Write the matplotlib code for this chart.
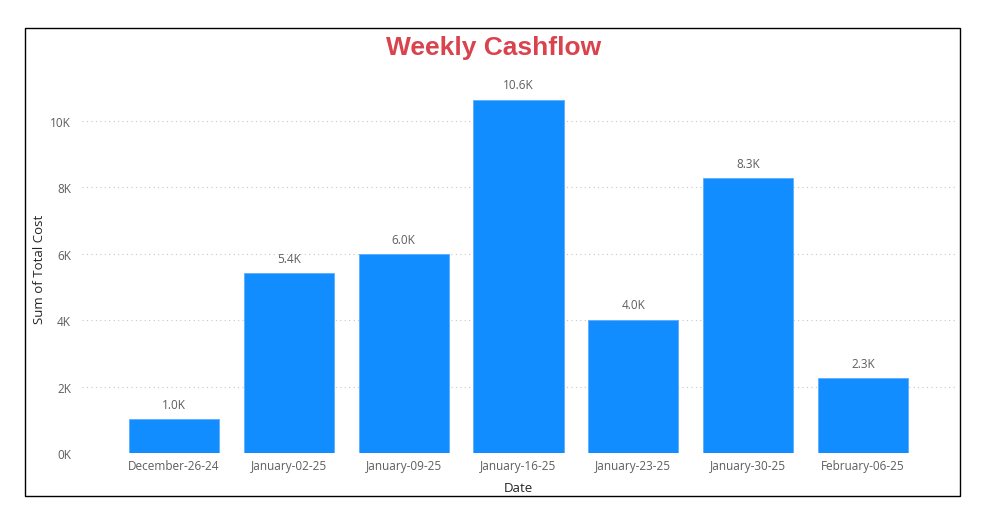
import matplotlib.pyplot as plt
from matplotlib.patches import Rectangle
from matplotlib.ticker import FuncFormatter

dates = ["December-26-24", "January-02-25", "January-09-25", "January-16-25",
         "January-23-25", "January-30-25", "February-06-25"]
cost = [1020, 5420, 5990, 10630, 4010, 8260, 2260]

plt.rcParams['font.family'] = ['Open Sans', 'DejaVu Sans']

fig = plt.figure(figsize=(9.87, 5.06), dpi=100)
ax = fig.add_axes([0.0831, 0.1028, 0.8845, 0.729])

x = range(len(dates))
bars = ax.bar(x, cost, width=0.785, color="#118DFF", edgecolor="#5AAEFF", linewidth=0.6, zorder=3)

for b, v in zip(bars, cost):
    ax.annotate(f"{v/1000:.1f}K", (b.get_x() + b.get_width()/2, v),
                xytext=(0, 6), textcoords="offset points",
                ha="center", va="bottom", fontsize=8.5, color="#605E5C")

ax.set_xlim(-0.8, 6.8)
ax.set_ylim(0, 11100)
ax.set_yticks([0, 2000, 4000, 6000, 8000, 10000])
ax.yaxis.set_major_formatter(FuncFormatter(lambda v, p: f"{int(v/1000)}K"))
ax.set_xticks(list(x))
ax.set_xticklabels(dates)
ax.tick_params(axis="both", length=0, labelsize=8.5, colors="#605E5C")
ax.tick_params(axis="x", pad=4)
ax.tick_params(axis="y", pad=8)
ax.grid(axis="y", linestyle=(0, (1, 3)), color="#C8C6C4", linewidth=0.8, zorder=0)
for s in ax.spines.values():
    s.set_visible(False)

ax.set_xlabel("Date", fontsize=9.5, color="#252423", labelpad=7)
ax.set_ylabel("Sum of Total Cost", fontsize=9.5, color="#252423", labelpad=3)

fig.text(0.5, 0.905, "Weekly Cashflow", ha="center", va="center",
         fontsize=19, fontweight="heavy", color="#D9434E", family="Liberation Sans")

fig.patches.append(Rectangle((25/987, 1 - 497/506), 935/987, 468/506,
                             transform=fig.transFigure, fill=False,
                             edgecolor="black", linewidth=1))

fig.savefig("out.png", dpi=100)
